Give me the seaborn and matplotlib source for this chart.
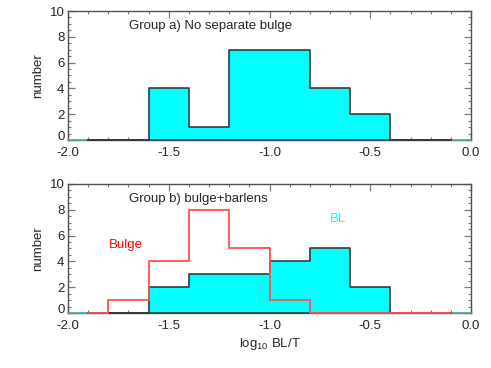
import numpy as np
import pandas as pd
import matplotlib
matplotlib.use("Agg")
import matplotlib.pyplot as plt
import matplotlib.transforms as mtransforms
from matplotlib.ticker import MultipleLocator, FixedLocator, FormatStrFormatter
import seaborn as sns

# ---- data ----
bin_edges = [-1.9, -1.8, -1.6, -1.4, -1.2, -1.0, -0.8, -0.6, -0.4, -0.2, -0.1]
group_a_counts = [0, 0, 4, 1, 7, 7, 4, 2, 0, 0]
bulge_counts = [0, 1, 4, 8, 5, 1, 0, 0, 0, 0]
bl_counts = [0, 0, 2, 3, 3, 4, 5, 2, 0, 0]
x_ticks = [-2.0, -1.5, -1.0, -0.5, 0.0]
y_ticks = [0, 2, 4, 6, 8, 10]

sns.set_style("ticks")
plt.rcParams['font.family'] = ['Liberation Sans', 'DejaVu Sans']
plt.rcParams['mathtext.default'] = 'regular'
plt.rcParams['font.size'] = 9

centers = [(a + b) / 2 for a, b in zip(bin_edges[:-1], bin_edges[1:])]
df = pd.DataFrame({'x': centers, 'a': group_a_counts,
                   'bulge': bulge_counts, 'bl': bl_counts})

fig = plt.figure(figsize=(4.91, 3.68), dpi=100)
ax1 = fig.add_axes([0.1385, 0.6196, 0.8208, 0.3505])
ax2 = fig.add_axes([0.1385, 0.1495, 0.8208, 0.3505])

CYAN = '#00ffff'
EDGE = '#3a3a3a'
TEAL = '#5aa5a5'
RED = '#ff5050'

def style_axes(ax):
    ax.set_xlim(-2.0, 0.0)
    ax.set_ylim(0, 10)
    ax.xaxis.set_major_locator(FixedLocator(x_ticks))
    ax.xaxis.set_minor_locator(MultipleLocator(0.1))
    ax.yaxis.set_major_locator(FixedLocator(y_ticks))
    ax.yaxis.set_minor_locator(MultipleLocator(0.5))
    ax.xaxis.set_major_formatter(FormatStrFormatter('%.1f'))
    ax.yaxis.set_major_formatter(FormatStrFormatter('%d'))
    ax.tick_params(which='both', direction='in', top=True, right=True,
                   color='#7a7a7a', labelsize=9.5)
    ax.tick_params(which='major', length=5, width=0.9)
    ax.tick_params(which='minor', length=2.5, width=0.8)
    ax.tick_params(axis='x', which='major', pad=5)
    ax.tick_params(axis='y', which='major', pad=2.5)
    for s in ax.spines.values():
        s.set_color('#505050')
        s.set_linewidth(1.0)
    ax.axhline(0, color=TEAL, lw=1.3, zorder=2.6, clip_on=False)
    ax.set_ylabel('number', fontsize=9.5)
    ax.yaxis.set_label_coords(-0.06, 0.5)
    ax.set_xlabel('')

def raise_artists(ax, z):
    for art in list(ax.collections) + list(ax.lines)[1:]:
        art.set_zorder(z)
        art.set_clip_on(False)

# top panel
style_axes(ax1)
sns.histplot(data=df, x='x', weights='a', bins=bin_edges, element='step',
             fill=True, color=CYAN, alpha=1, edgecolor=EDGE, linewidth=1.2,
             ax=ax1)
for c in ax1.collections:
    c.set_zorder(3)
    c.set_clip_on(False)
ax1.set_xlabel('')
ax1.set_ylabel('number', fontsize=9.5)
ax1.text(0.151, 0.884, 'Group a) No separate bulge', transform=ax1.transAxes,
         fontsize=9.5, va='center', ha='left')

# bottom panel
style_axes(ax2)
sns.histplot(data=df, x='x', weights='bl', bins=bin_edges, element='step',
             fill=True, color=CYAN, alpha=1, edgecolor=EDGE, linewidth=1.2,
             ax=ax2)
for c in ax2.collections:
    c.set_zorder(3)
    c.set_clip_on(False)
sns.histplot(data=df, x='x', weights='bulge', bins=bin_edges, element='step',
             fill=False, color=RED, linewidth=1.3, ax=ax2)
for ln in ax2.lines[1:]:
    ln.set_zorder(4)
    ln.set_clip_on(False)
ax2.set_ylabel('number', fontsize=9.5)
ax2.set_xlabel('log$_{10}$ BL/T', fontsize=9.5, labelpad=3)
ax2.text(0.151, 0.881, 'Group b) bulge+barlens', transform=ax2.transAxes,
         fontsize=9.5, va='center', ha='left')
ax2.text(0.102, 0.527, 'Bulge', transform=ax2.transAxes, color='red',
         fontsize=9.5, va='center', ha='left')
ax2.text(0.65, 0.726, 'BL', transform=ax2.transAxes, color=CYAN,
         fontsize=9.5, va='center', ha='left')

for ax in (ax1, ax2):
    ax.yaxis.set_label_coords(-0.06, 0.5)
    t0 = ax.yaxis.get_major_ticks()[0]
    off = mtransforms.ScaledTranslation(0, 4 / 100, fig.dpi_scale_trans)
    t0.label1.set_transform(t0.label1.get_transform() + off)

fig.savefig('out.png', dpi=100)
